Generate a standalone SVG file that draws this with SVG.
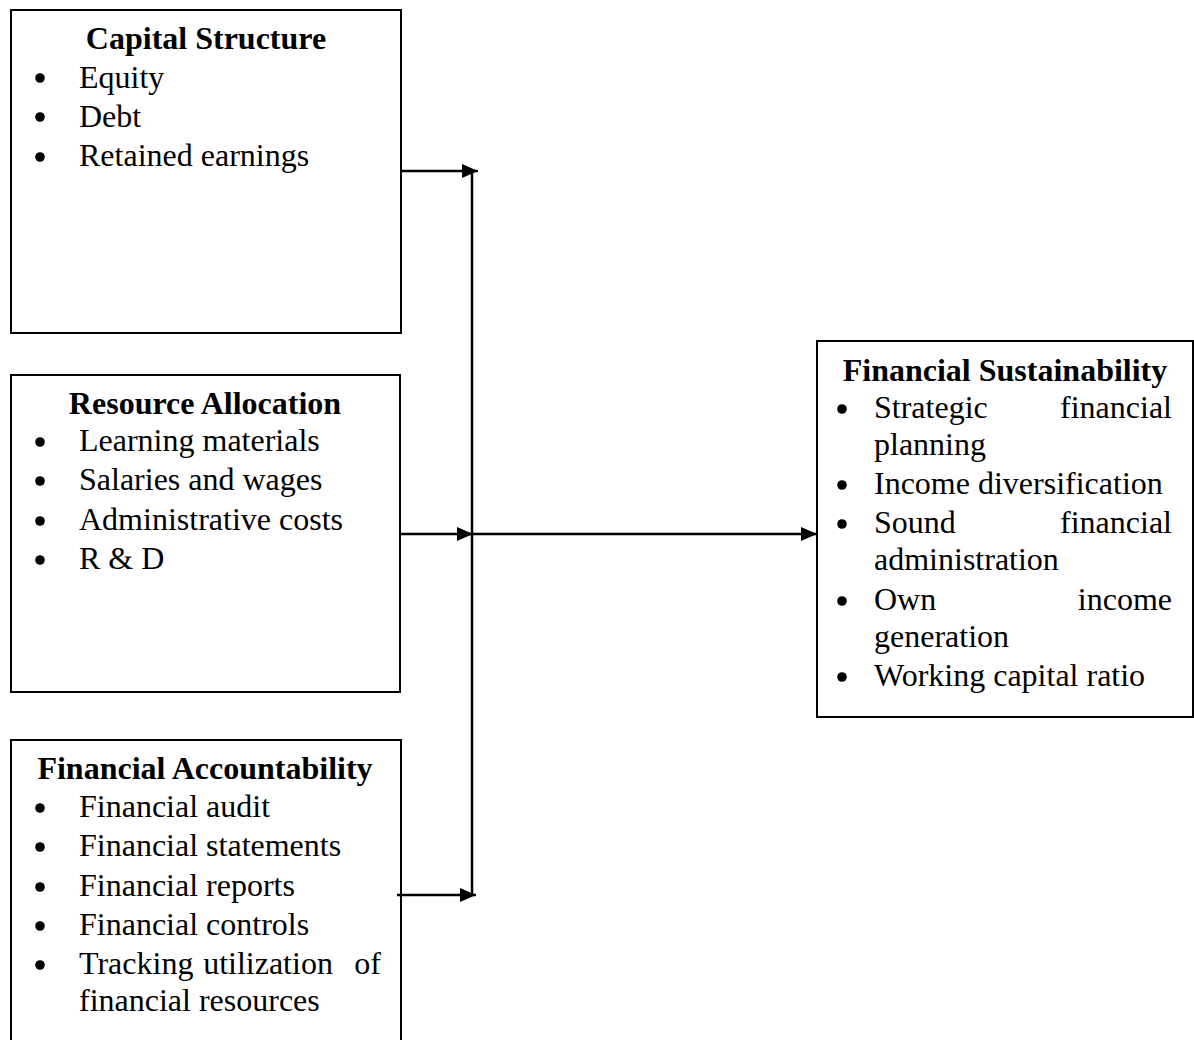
<svg xmlns="http://www.w3.org/2000/svg" width="1194" height="1040" viewBox="0 0 1194 1040">
<style>
.box{fill:#fff;stroke:#000;stroke-width:2}
text{font-family:"Liberation Serif","Times New Roman",serif;font-size:32px;fill:#000}
.t{font-weight:bold;text-anchor:middle}
.r{text-anchor:end}
.m{text-anchor:middle}
.ln{stroke:#000;stroke-width:2.5;fill:none}
</style>
<defs>
<marker id="ah" markerWidth="16" markerHeight="14" refX="16" refY="7" orient="auto" markerUnits="userSpaceOnUse">
<path d="M0,0 L16,7 L0,14 z" fill="#000"/>
</marker>
<g id="bullet"><circle cx="0" cy="0" r="4.8" fill="#000"/></g>
</defs>
<g id="capital">
<rect class="box" x="11" y="10" width="390" height="323"/>
<text class="t" x="206" y="49">Capital Structure</text>
<use href="#bullet" x="40" y="78"/><text x="79" y="88">Equity</text>
<use href="#bullet" x="40" y="117"/><text x="79" y="127">Debt</text>
<use href="#bullet" x="40" y="157"/><text x="79" y="166">Retained earnings</text>
</g>
<g id="resource">
<rect class="box" x="11" y="375" width="389" height="317"/>
<text class="t" x="205" y="414">Resource Allocation</text>
<use href="#bullet" x="40" y="442"/><text x="79" y="451">Learning materials</text>
<use href="#bullet" x="40" y="481"/><text x="79" y="490">Salaries and wages</text>
<use href="#bullet" x="40" y="521"/><text x="79" y="530">Administrative costs</text>
<use href="#bullet" x="40" y="560"/><text x="79" y="569">R &amp; D</text>
</g>
<g id="accountability">
<rect class="box" x="11" y="740" width="390" height="320"/>
<text class="t" x="205" y="779">Financial Accountability</text>
<use href="#bullet" x="40" y="808"/><text x="79" y="817">Financial audit</text>
<use href="#bullet" x="40" y="847"/><text x="79" y="856">Financial statements</text>
<use href="#bullet" x="40" y="887"/><text x="79" y="896">Financial reports</text>
<use href="#bullet" x="40" y="926"/><text x="79" y="935">Financial controls</text>
<use href="#bullet" x="40" y="965"/><text x="79" y="974">Tracking</text><text class="m" x="268" y="974">utilization</text><text class="r" x="381" y="974">of</text>
<text x="79" y="1011">financial resources</text>
</g>
<g id="sustainability">
<rect class="box" x="817" y="341" width="376" height="376"/>
<text class="t" x="1005" y="381">Financial Sustainability</text>
<use href="#bullet" x="842" y="409"/><text x="874" y="418">Strategic</text><text class="r" x="1172" y="418">financial</text>
<text x="874" y="455">planning</text>
<use href="#bullet" x="842" y="485"/><text x="874" y="494">Income diversification</text>
<use href="#bullet" x="842" y="524"/><text x="874" y="533">Sound</text><text class="r" x="1172" y="533">financial</text>
<text x="874" y="570">administration</text>
<use href="#bullet" x="842" y="601"/><text x="874" y="610">Own</text><text class="r" x="1172" y="610">income</text>
<text x="874" y="647">generation</text>
<use href="#bullet" x="842" y="677"/><text x="874" y="686">Working capital ratio</text>
</g>
<g id="connectors">
<line class="ln" x1="472" y1="170" x2="472" y2="896"/>
<line class="ln" x1="401" y1="171" x2="478" y2="171" marker-end="url(#ah)"/>
<line class="ln" x1="400" y1="534" x2="473" y2="534" marker-end="url(#ah)"/>
<line class="ln" x1="472" y1="534" x2="817" y2="534" marker-end="url(#ah)"/>
<line class="ln" x1="397" y1="895" x2="476" y2="895" marker-end="url(#ah)"/>
</g>
</svg>
